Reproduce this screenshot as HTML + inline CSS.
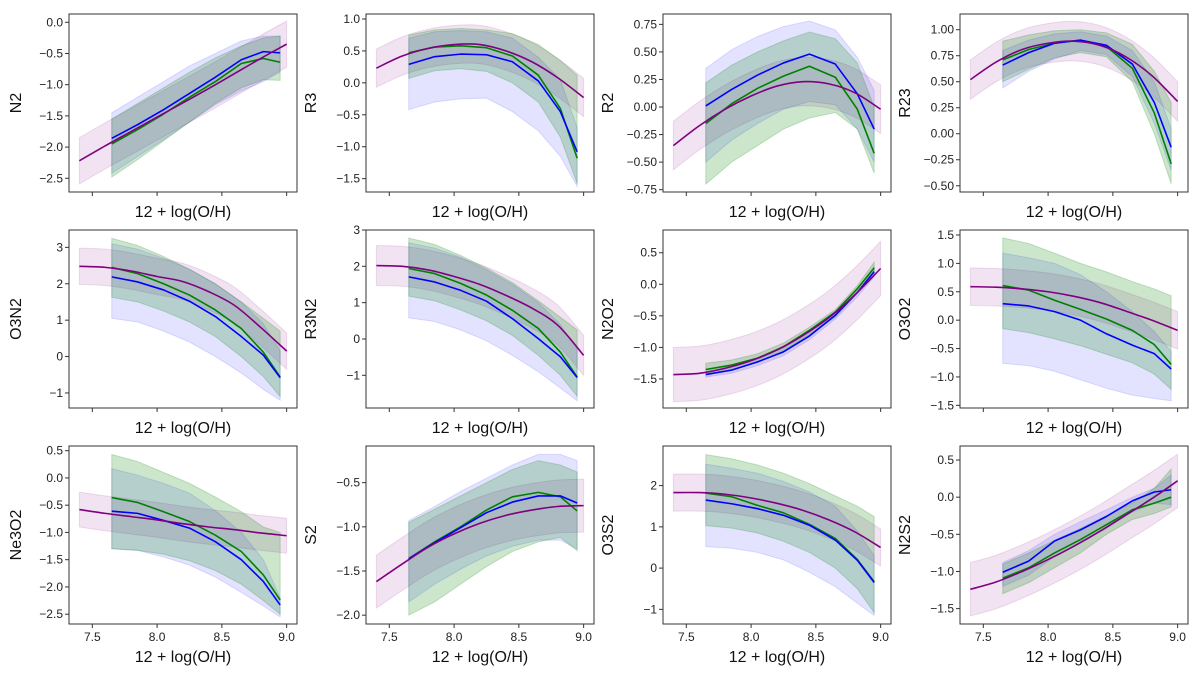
<!DOCTYPE html>
<html><head><meta charset="utf-8"><style>
html,body{margin:0;padding:0;background:#fff;}
svg{display:block;font-family:"Liberation Sans","DejaVu Sans",sans-serif;}
</style></head><body>
<svg id="fig" width="1200" height="675" viewBox="0 0 1200 675" xmlns="http://www.w3.org/2000/svg"></svg>
<script>
// ---- data ----
const xObs = [7.65, 7.85, 8.05, 8.25, 8.45, 8.65, 8.82, 8.95];
const xFit = [7.4, 7.6, 7.8, 8.0, 8.2, 8.4, 8.6, 8.8, 9.0];
const xTicks = [7.5, 8.0, 8.5, 9.0];
const panelNames = ["N2","R3","R2","R23","O3N2","R3N2","N2O2","O3O2","Ne3O2","S2","O3S2","N2S2"];
const yLimits = [[-2.72,0.133],[-1.709,1.078],[-0.771,0.844],[-0.56,1.151],[-1.413,3.477],[-1.90,3.0],[-1.96,0.86],[-1.547,1.588],[-2.68,0.586],[-2.10,-0.085],[-1.355,2.96],[-1.707,0.689]];
const yTickVals = [[0,-0.5,-1,-1.5,-2,-2.5],[1,0.5,0,-0.5,-1,-1.5],[0.75,0.5,0.25,0,-0.25,-0.5,-0.75],[1,0.75,0.5,0.25,0,-0.25,-0.5],[3,2,1,0,-1],[3,2,1,0,-1],[0.5,0,-0.5,-1,-1.5],[1.5,1,0.5,0,-0.5,-1,-1.5],[0.5,0,-0.5,-1,-1.5,-2,-2.5],[-0.5,-1,-1.5,-2],[2,1,0,-1],[0.5,0,-0.5,-1,-1.5]];
const yTickDecimals = [1,1,2,2,0,0,1,1,1,1,0,1];
const blueMean = [
[-1.86,-1.64,-1.40,-1.14,-0.88,-0.60,-0.47,-0.49],
[0.29,0.41,0.45,0.44,0.33,0.03,-0.45,-1.08],
[0.01,0.16,0.29,0.40,0.48,0.39,0.12,-0.20],
[0.66,0.78,0.87,0.90,0.85,0.67,0.30,-0.13],
[2.19,2.05,1.83,1.52,1.10,0.55,0.04,-0.58],
[1.71,1.57,1.34,1.04,0.56,0.01,-0.49,-1.06],
[-1.43,-1.36,-1.23,-1.07,-0.82,-0.49,-0.13,0.20],
[0.29,0.25,0.15,0.00,-0.24,-0.44,-0.59,-0.86],
[-0.61,-0.65,-0.78,-0.92,-1.17,-1.50,-1.90,-2.33],
[-1.36,-1.18,-1.01,-0.84,-0.72,-0.65,-0.65,-0.73],
[1.65,1.56,1.44,1.28,1.04,0.68,0.19,-0.35],
[-1.01,-0.86,-0.59,-0.44,-0.26,-0.05,0.07,0.10]];
const blueHi = [
[-1.45,-1.20,-0.95,-0.70,-0.50,-0.30,-0.22,-0.22],
[0.70,0.80,0.82,0.80,0.70,0.40,0.05,-0.70],
[0.35,0.52,0.64,0.73,0.78,0.70,0.45,0.15],
[0.80,0.90,0.96,0.98,0.94,0.80,0.50,0.05],
[3.10,2.95,2.70,2.40,2.00,1.50,0.90,0.15],
[2.65,2.50,2.25,1.90,1.50,1.00,0.40,-0.30],
[-1.38,-1.30,-1.17,-1.00,-0.76,-0.43,-0.07,0.28],
[1.18,1.10,1.00,0.80,0.50,0.15,-0.20,-0.55],
[0.17,0.05,-0.10,-0.28,-0.60,-1.00,-1.50,-2.20],
[-0.93,-0.77,-0.60,-0.45,-0.30,-0.18,-0.18,-0.25],
[2.52,2.42,2.30,2.10,1.85,1.50,0.90,0.30],
[-0.88,-0.72,-0.50,-0.33,-0.17,0.00,0.12,0.30]];
const blueLo = [
[-2.42,-2.15,-1.88,-1.60,-1.32,-1.10,-0.95,-0.80],
[-0.42,-0.30,-0.25,-0.24,-0.45,-0.75,-1.15,-1.62],
[-0.50,-0.30,-0.15,-0.02,0.05,0.02,-0.20,-0.50],
[0.44,0.60,0.72,0.80,0.76,0.55,0.10,-0.35],
[1.05,0.95,0.70,0.40,0.00,-0.45,-0.90,-1.20],
[0.58,0.48,0.25,-0.05,-0.45,-0.90,-1.35,-1.70],
[-1.47,-1.41,-1.29,-1.13,-0.88,-0.55,-0.20,0.12],
[-0.76,-0.80,-0.90,-1.05,-1.20,-1.32,-1.38,-1.42],
[-1.30,-1.33,-1.45,-1.60,-1.82,-2.10,-2.35,-2.55],
[-1.85,-1.65,-1.48,-1.33,-1.22,-1.15,-1.15,-1.25],
[0.52,0.48,0.38,0.20,-0.10,-0.45,-0.85,-1.15],
[-1.20,-1.05,-0.80,-0.60,-0.42,-0.20,-0.08,-0.10]];
const greenMean = [
[-1.95,-1.72,-1.47,-1.20,-0.95,-0.66,-0.58,-0.64],
[0.47,0.56,0.58,0.55,0.42,0.12,-0.40,-1.18],
[-0.15,0.03,0.17,0.28,0.37,0.27,-0.02,-0.42],
[0.71,0.81,0.87,0.90,0.84,0.63,0.20,-0.29],
[2.45,2.28,2.00,1.69,1.28,0.77,0.12,-0.56],
[1.94,1.80,1.53,1.21,0.79,0.29,-0.36,-1.05],
[-1.35,-1.28,-1.17,-0.99,-0.73,-0.44,-0.07,0.26],
[0.61,0.53,0.35,0.19,0.02,-0.18,-0.43,-0.78],
[-0.36,-0.45,-0.62,-0.80,-1.05,-1.35,-1.78,-2.24],
[-1.36,-1.17,-1.00,-0.81,-0.66,-0.61,-0.66,-0.82],
[1.82,1.73,1.52,1.34,1.06,0.72,0.21,-0.33],
[-1.09,-0.95,-0.75,-0.57,-0.37,-0.17,-0.08,0.00]];
const greenHi = [
[-1.55,-1.30,-1.05,-0.80,-0.57,-0.38,-0.25,-0.22],
[0.75,0.83,0.85,0.83,0.77,0.60,0.35,0.12],
[0.22,0.38,0.50,0.60,0.68,0.62,0.40,0.00],
[0.89,0.95,0.99,1.00,0.97,0.86,0.60,0.30],
[3.25,3.05,2.75,2.40,2.00,1.50,1.05,0.70],
[2.78,2.60,2.30,1.95,1.55,1.05,0.60,0.25],
[-1.25,-1.20,-1.10,-0.93,-0.68,-0.40,-0.02,0.35],
[1.45,1.35,1.18,1.00,0.85,0.68,0.55,0.43],
[0.43,0.30,0.10,-0.10,-0.35,-0.62,-0.90,-1.00],
[-0.95,-0.80,-0.65,-0.50,-0.35,-0.25,-0.30,-0.38],
[2.75,2.65,2.50,2.30,2.05,1.75,1.50,1.25],
[-0.90,-0.75,-0.58,-0.42,-0.25,-0.08,0.12,0.38]];
const greenLo = [
[-2.48,-2.20,-1.90,-1.60,-1.30,-1.05,-0.92,-0.93],
[0.07,0.19,0.22,0.18,0.00,-0.30,-0.85,-1.58],
[-0.70,-0.50,-0.35,-0.20,-0.10,-0.05,-0.20,-0.60],
[0.50,0.62,0.73,0.78,0.74,0.50,0.00,-0.48],
[1.63,1.50,1.25,0.95,0.55,0.00,-0.55,-1.10],
[1.18,1.05,0.80,0.50,0.10,-0.45,-1.00,-1.58],
[-1.42,-1.35,-1.24,-1.06,-0.80,-0.52,-0.14,0.15],
[-0.15,-0.22,-0.33,-0.45,-0.60,-0.75,-0.95,-1.22],
[-1.30,-1.33,-1.40,-1.52,-1.70,-1.95,-2.25,-2.50],
[-2.00,-1.85,-1.65,-1.45,-1.28,-1.17,-1.12,-1.27],
[1.03,0.97,0.85,0.65,0.38,0.00,-0.50,-1.08],
[-1.30,-1.15,-0.95,-0.75,-0.50,-0.30,-0.22,-0.13]];
const purpleFit = [
[-2.22,-1.98,-1.75,-1.52,-1.29,-1.06,-0.82,-0.58,-0.35],
[0.23,0.42,0.54,0.60,0.60,0.50,0.33,0.08,-0.23],
[-0.35,-0.17,-0.02,0.10,0.19,0.23,0.21,0.13,-0.02],
[0.52,0.69,0.81,0.87,0.89,0.85,0.74,0.56,0.31],
[2.48,2.45,2.35,2.20,2.06,1.78,1.40,0.80,0.15],
[2.02,2.00,1.90,1.72,1.50,1.20,0.85,0.38,-0.45],
[-1.43,-1.41,-1.33,-1.21,-1.04,-0.81,-0.53,-0.17,0.25],
[0.59,0.58,0.55,0.50,0.42,0.31,0.16,0.00,-0.18],
[-0.58,-0.65,-0.71,-0.77,-0.84,-0.90,-0.95,-1.01,-1.06],
[-1.62,-1.42,-1.23,-1.08,-0.96,-0.87,-0.81,-0.77,-0.76],
[1.83,1.83,1.79,1.70,1.57,1.40,1.17,0.88,0.50],
[-1.24,-1.14,-1.00,-0.84,-0.66,-0.46,-0.24,-0.02,0.22]];
const purpleSigma = [0.37,0.30,0.22,0.19,0.50,0.55,0.43,0.33,0.32,0.30,0.45,0.36];

// ---- layout ----
const svg = document.getElementById('fig');
const NS = 'http://www.w3.org/2000/svg';
const colLeft = [69, 366, 663, 960], rowTop = [14, 230, 446];
const W = 228, H = 178, X0 = 7.32, X1 = 9.08;
function mk(tag, attrs, parent){const e=document.createElementNS(NS,tag);for(const k in attrs)e.setAttribute(k,attrs[k]);(parent||svg).appendChild(e);return e;}
function fmt(v,d){let s=Math.abs(v).toFixed(d);if(v<0)s='\u2212'+s;return s;}
function f2(n){return n.toFixed(2);}
function curveSegs(pts){let d='';for(let i=0;i<pts.length-1;i++){const p0=pts[Math.max(0,i-1)],p1=pts[i],p2=pts[i+1],p3=pts[Math.min(pts.length-1,i+2)];const c1x=p1[0]+(p2[0]-p0[0])/6,c1y=p1[1]+(p2[1]-p0[1])/6,c2x=p2[0]-(p3[0]-p1[0])/6,c2y=p2[1]-(p3[1]-p1[1])/6;d+=' C'+f2(c1x)+','+f2(c1y)+' '+f2(c2x)+','+f2(c2y)+' '+f2(p2[0])+','+f2(p2[1]);}return d;}
function smooth(pts){return 'M'+f2(pts[0][0])+','+f2(pts[0][1])+curveSegs(pts);}
function smoothBand(top,bot){const rb=bot.slice().reverse();return smooth(top)+' L'+f2(rb[0][0])+','+f2(rb[0][1])+curveSegs(rb)+' Z';}

panelNames.forEach((name,p)=>{
  const r=Math.floor(p/4), c=p%4, L=colLeft[c], T=rowTop[r];
  const [y0,y1]=yLimits[p];
  const sx=v=>L+(v-X0)/(X1-X0)*W;
  const sy=v=>T+H-(v-y0)/(y1-y0)*H;
  const g=mk('g',{});
  
  
  const clipId='clip'+p;
  const cp=mk('clipPath',{id:clipId},g); mk('rect',{x:L,y:T,width:W,height:H},cp);
  const plot=mk('g',{'clip-path':'url(#'+clipId+')'},g);
  const pTop=xFit.map((x,i)=>[sx(x),sy(purpleFit[p][i]+purpleSigma[p])]);
  const pBot=xFit.map((x,i)=>[sx(x),sy(purpleFit[p][i]-purpleSigma[p])]);
  const pb=mk('path',{d:smoothBand(pTop,pBot),fill:'rgba(128,0,128,0.11)',stroke:'rgba(128,0,128,0.12)','stroke-width':1},plot);
  
  
  function band(hi,lo,fill,stroke,nm){
    const pts=xObs.map((x,i)=>f2(sx(x))+','+f2(sy(hi[i]))).concat(xObs.slice().reverse().map((x,j)=>{const i=xObs.length-1-j;return f2(sx(x))+','+f2(sy(lo[i]));}));
    const e=mk('polygon',{points:pts.join(' '),fill:fill,stroke:stroke,'stroke-width':1},plot);
    
    
  }
  band(blueHi[p],blueLo[p],'rgba(0,0,255,0.11)','rgba(0,0,255,0.12)','blue-band-'+name.toLowerCase());
  band(greenHi[p],greenLo[p],'rgba(0,128,0,0.2)','rgba(0,128,0,0.2)','green-band-'+name.toLowerCase());
  function line(vals,color,nm){
    const e=mk('polyline',{points:xObs.map((x,i)=>f2(sx(x))+','+f2(sy(vals[i]))).join(' '),fill:'none',stroke:color,'stroke-width':1.6,'stroke-linejoin':'round'},plot);
    
    
  }
  line(greenMean[p],'#008000','green-line-'+name.toLowerCase());
  line(blueMean[p],'#0000ff','blue-line-'+name.toLowerCase());
  const pl=mk('path',{d:smooth(xFit.map((x,i)=>[sx(x),sy(purpleFit[p][i])])),fill:'none',stroke:'#800080','stroke-width':1.6},plot);
  
  
  const fr=mk('rect',{x:L,y:T,width:W,height:H,fill:'none',stroke:'#333','stroke-width':1},g);
  
  
  yTickVals[p].forEach(v=>{
    const y=sy(v);
    mk('line',{x1:L-4,x2:L,y1:y,y2:y,stroke:'#333','stroke-width':1},g);
    const t=mk('text',{x:L-6,y:y+4,'text-anchor':'end','font-size':12,fill:'#222'},g);
    t.textContent=fmt(v,yTickDecimals[p]);
    
    
  });
  xTicks.forEach(v=>{
    const x=sx(v);
    mk('line',{x1:x,x2:x,y1:T+H,y2:T+H+4,stroke:'#333','stroke-width':1},g);
    if(r===2){
      const t=mk('text',{x:x,y:T+H+17,'text-anchor':'middle','font-size':12,fill:'#222'},g);
      t.textContent=v.toFixed(1);
      
      
    }
  });
  const xl=mk('text',{x:L+W/2,y:T+H+(r===2?38:25),'text-anchor':'middle','font-size':16,fill:'#111'},g);
  xl.textContent='12 + log(O/H)';
  
  
  const yx=L-(c===0?48:50);
  const yl=mk('text',{x:yx,y:T+H/2,'text-anchor':'middle','font-size':16,fill:'#111',transform:'rotate(-90 '+yx+' '+(T+H/2)+')'},g);
  yl.textContent=name;
  
  
});
</script>
</body></html>
